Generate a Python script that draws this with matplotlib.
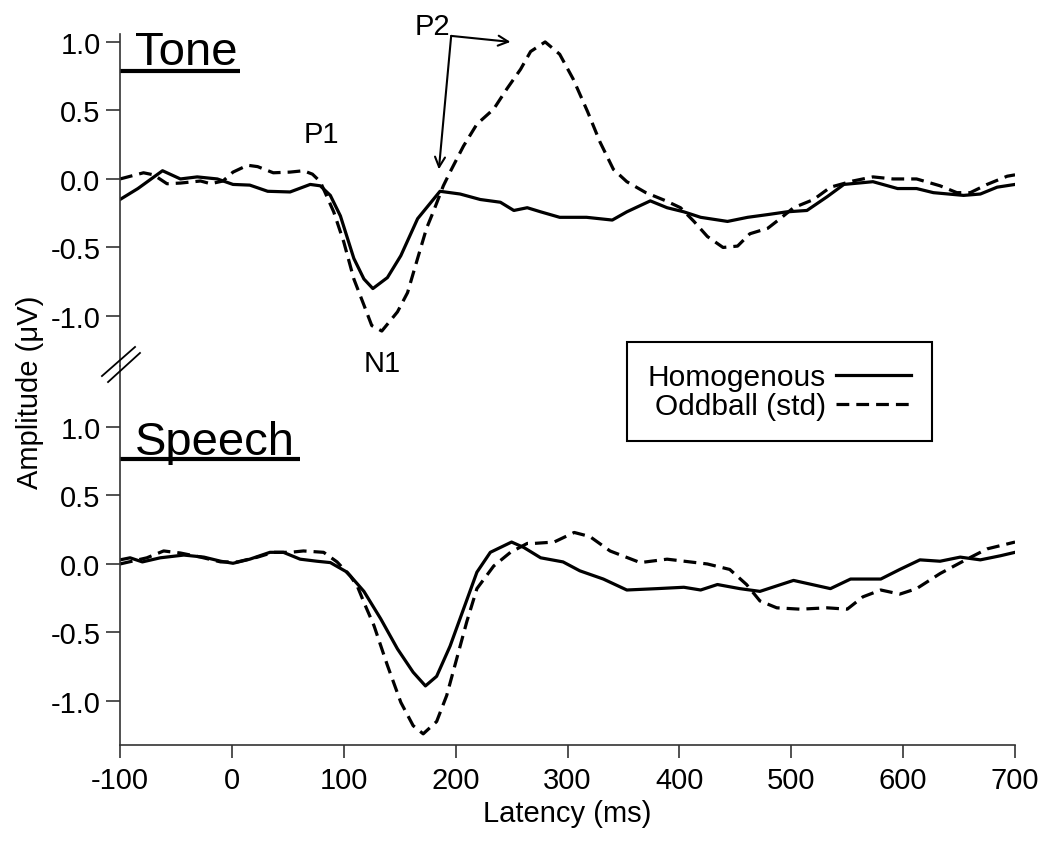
import matplotlib
matplotlib.use("Agg")
import matplotlib.pyplot as plt
from matplotlib.lines import Line2D

plt.rcParams['font.family'] = ['Liberation Sans', 'DejaVu Sans']
plt.rcParams['axes.unicode_minus'] = False

# Tone - homogenous (solid)
tone_homog_t = [-100, -84, -62, -46, -31, -13, 1, 16, 32, 52, 70, 79, 88, 97, 109, 118, 126,
                139, 151, 166, 180, 186, 204, 222, 240, 252, 264, 276, 293, 317, 340, 353,
                374, 389, 404, 419, 443, 461, 479, 496, 514, 532, 547, 573, 595, 612, 627,
                654, 669, 684, 700]
tone_homog_v = [-0.15, -0.07, 0.06, 0.0, 0.015, 0.0, -0.04, -0.045, -0.09, -0.095, -0.04, -0.05,
                -0.12, -0.27, -0.58, -0.73, -0.80, -0.72, -0.56, -0.29, -0.15, -0.09, -0.11,
                -0.15, -0.17, -0.23, -0.21, -0.24, -0.28, -0.28, -0.30, -0.24, -0.16, -0.21,
                -0.24, -0.28, -0.31, -0.28, -0.26, -0.24, -0.23, -0.13, -0.04, -0.02, -0.07,
                -0.07, -0.10, -0.12, -0.11, -0.06, -0.04]

# Tone - oddball standard (dashed)
tone_odd_t = [-100, -79, -70, -58, -46, -28, -19, -8, 1, 14, 23, 37, 52, 64, 72, 79, 91, 100,
              109, 118, 125, 134, 148, 157, 166, 174, 180, 189, 195, 207, 219, 234, 246, 258,
              267, 280, 293, 305, 318, 329, 341, 353, 370, 388, 401, 413, 425, 439, 452, 463,
              479, 490, 502, 520, 535, 555, 573, 591, 612, 633, 648, 660, 675, 693, 700]
tone_odd_v = [0.0, 0.045, 0.03, -0.035, -0.03, -0.015, -0.035, -0.015, 0.05, 0.10, 0.09, 0.045,
              0.05, 0.06, 0.035, -0.02, -0.24, -0.46, -0.73, -0.92, -1.07, -1.11, -0.97, -0.83,
              -0.58, -0.36, -0.24, -0.05, 0.05, 0.24, 0.40, 0.51, 0.66, 0.80, 0.93, 1.0, 0.91,
              0.73, 0.49, 0.27, 0.07, -0.02, -0.10, -0.16, -0.21, -0.31, -0.42, -0.50, -0.49,
              -0.40, -0.36, -0.29, -0.21, -0.15, -0.06, -0.015, 0.015, 0.0, 0.0, -0.05, -0.10,
              -0.10, -0.04, 0.02, 0.03]

# Speech - homogenous (solid)
speech_homog_t = [-100, -91, -80, -64, -43, -25, -10, 1, 16, 34, 46, 61, 76, 88, 103, 118, 133,
                  148, 162, 173, 183, 195, 207, 219, 231, 250, 261, 276, 296, 311, 332, 353,
                  380, 404, 419, 434, 454, 472, 502, 535, 553, 580, 597, 615, 633, 651, 669,
                  687, 700]
speech_homog_v = [0.03, 0.045, 0.015, 0.045, 0.065, 0.05, 0.02, 0.005, 0.035, 0.085, 0.085,
                  0.035, 0.02, 0.01, -0.06, -0.20, -0.40, -0.62, -0.79, -0.89, -0.82, -0.60,
                  -0.33, -0.06, 0.085, 0.16, 0.12, 0.045, 0.015, -0.05, -0.11, -0.19, -0.18,
                  -0.17, -0.19, -0.15, -0.18, -0.20, -0.12, -0.18, -0.11, -0.11, -0.04, 0.03,
                  0.02, 0.05, 0.03, 0.06, 0.085]

# Speech - oddball standard (dashed)
speech_odd_t = [-100, -76, -61, -46, -28, -10, 5, 23, 37, 52, 64, 82, 94, 106, 112, 118, 127,
                139, 151, 162, 171, 183, 192, 201, 210, 219, 234, 249, 264, 270, 288, 306, 320,
                338, 365, 389, 425, 445, 460, 472, 487, 508, 532, 550, 564, 580, 597, 612, 633,
                657, 675, 700]
speech_odd_v = [0.0, 0.045, 0.095, 0.08, 0.05, 0.015, 0.015, 0.05, 0.085, 0.085, 0.095, 0.085,
                0.015, -0.09, -0.16, -0.28, -0.45, -0.74, -1.01, -1.18, -1.24, -1.15, -0.96,
                -0.69, -0.42, -0.18, -0.015, 0.085, 0.15, 0.15, 0.16, 0.23, 0.20, 0.095, 0.01,
                0.035, 0.0, -0.04, -0.15, -0.27, -0.32, -0.33, -0.32, -0.33, -0.24, -0.19,
                -0.22, -0.18, -0.07, 0.035, 0.11, 0.16]

x_ticks = [-100, 0, 100, 200, 300, 400, 500, 600, 700]
y_ticks = [-1.0, -0.5, 0.0, 0.5, 1.0]

fs = 21
lw = 2.3
dash = (4, 2.2)

fig = plt.figure(figsize=(10.5, 8.45), dpi=100)
ax_top = fig.add_axes([0.1143, 0.5657, 0.8524, 0.3929])
ax_bot = fig.add_axes([0.1143, 0.1172, 0.8524, 0.4485])

for ax in (ax_top, ax_bot):
    ax.patch.set_visible(False)
    ax.set_xlim(-100, 700)
    for s in ('top', 'right'):
        ax.spines[s].set_visible(False)
    ax.spines['left'].set_linewidth(1.2)
    ax.spines['left'].set_color('#333333')
    ax.set_yticks(y_ticks)
    ax.set_yticklabels([f"{v:.1f}" for v in y_ticks])
    ax.tick_params(axis='y', direction='out', length=10, width=1.2, pad=4,
                   labelsize=fs, color='#333333')

ax_top.set_ylim(-1.365, 1.058)
ax_bot.set_ylim(-1.321, 1.445)

ax_top.spines['bottom'].set_visible(False)
ax_top.set_xticks([])

ax_bot.spines['bottom'].set_linewidth(1.2)
ax_bot.spines['bottom'].set_color('#333333')
ax_bot.set_xticks(x_ticks)
ax_bot.set_xticklabels([str(t) for t in x_ticks])
ax_bot.tick_params(axis='x', direction='out', length=9, width=1.2, pad=6,
                   labelsize=fs, color='#333333')
ax_bot.set_xlabel("Latency (ms)", fontsize=fs, labelpad=4)

h1, = ax_top.plot(tone_homog_t, tone_homog_v, color='black', lw=lw)
h2, = ax_top.plot(tone_odd_t, tone_odd_v, color='black', lw=lw, dashes=dash)
ax_bot.plot(speech_homog_t, speech_homog_v, color='black', lw=lw)
ax_bot.plot(speech_odd_t, speech_odd_v, color='black', lw=lw, dashes=dash)

# panel titles with underline
ax_top.text(0.017, 0.91, "Tone", transform=ax_top.transAxes, fontsize=34, va='baseline')
ax_top.plot([0, 0.134], [0.889, 0.889], transform=ax_top.transAxes, color='black',
            lw=3, clip_on=False, solid_capstyle='butt')
ax_bot.text(0.017, 0.768, "Speech", transform=ax_bot.transAxes, fontsize=34, va='baseline')
ax_bot.plot([0, 0.201], [0.755, 0.755], transform=ax_bot.transAxes, color='black',
            lw=3, clip_on=False, solid_capstyle='butt')

# component labels
ax_top.text(80, 0.33, "P1", fontsize=fs, ha='center', va='center')
ax_top.text(134, -1.34, "N1", fontsize=fs, ha='center', va='center', clip_on=False,
            zorder=10)
ax_top.text(179, 1.117, "P2", fontsize=fs, ha='center', va='center', clip_on=False)
for target in [(249, 1.0), (185, 0.07)]:
    ax_top.annotate("", xy=target, xytext=(196, 1.044),
                    arrowprops=dict(arrowstyle='->', lw=1.5, color='black',
                                    shrinkA=0, shrinkB=0, mutation_scale=18),
                    annotation_clip=False)

# axis break marks
fig.add_artist(Line2D([0.0971, 0.1286], [0.5538, 0.5882], transform=fig.transFigure,
                      color='black', lw=1.3))
fig.add_artist(Line2D([0.1029, 0.1333], [0.5467, 0.5811], transform=fig.transFigure,
                      color='black', lw=1.3))

fig.text(0.029, 0.536, "Amplitude (\u03bcV)", rotation=90, fontsize=fs,
         ha='center', va='center')

leg = fig.legend([h1, h2], ["Homogenous", "Oddball (std)"], loc='upper left',
                 bbox_to_anchor=(0.597, 0.594), borderaxespad=0, fontsize=21.5,
                 markerfirst=False, handlelength=2.5, handletextpad=0.35,
                 labelspacing=0.05, fancybox=False, framealpha=1,
                 borderpad=0.7)
leg.get_frame().set_edgecolor('black')
leg.get_frame().set_linewidth(1.5)

fig.savefig("out.png", dpi=100)
